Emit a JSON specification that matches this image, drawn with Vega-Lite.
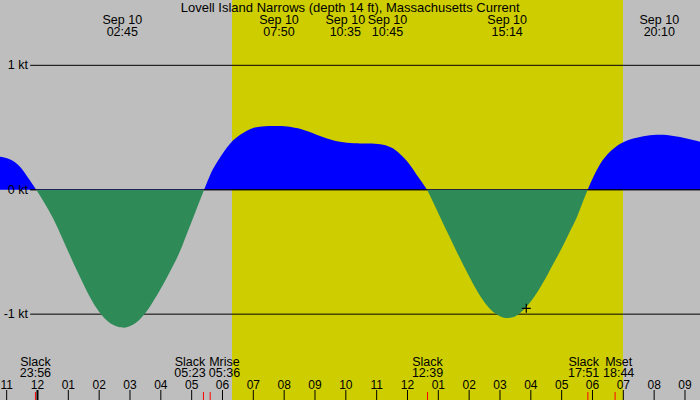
{
  "$schema": "https://vega.github.io/schema/vega-lite/v6.json",
  "width": 700,
  "height": 400,
  "autosize": {"type": "none"},
  "padding": 0,
  "background": "#bebebe",
  "config": {
    "view": {"stroke": null, "fill": "#bebebe"},
    "axis": {"disable": true},
    "text": {"font": "Liberation Sans", "fontSize": 12, "color": "black"}
  },
  "datasets": {
    "day": [{"rise": 30.308, "set": 42.989}],
    "levels": [
      {"kt": 1, "label": "1 kt"},
      {"kt": 0, "label": "0 kt"},
      {"kt": -1, "label": "-1 kt"}
    ],
    "flood": [
      {"start": 23.763, "end": 23.961},
      {"start": 29.4, "end": 36.642},
      {"start": 41.838, "end": 45.487}
    ],
    "current": [
      {"t": 22.395, "kt": 0.275},
      {"t": 22.784, "kt": 0.266},
      {"t": 23.043, "kt": 0.253},
      {"t": 23.27, "kt": 0.225},
      {"t": 23.433, "kt": 0.187},
      {"t": 23.595, "kt": 0.135},
      {"t": 23.757, "kt": 0.074},
      {"t": 23.961, "kt": 0},
      {"t": 24.243, "kt": -0.111},
      {"t": 24.512, "kt": -0.23},
      {"t": 24.73, "kt": -0.348},
      {"t": 24.999, "kt": -0.498},
      {"t": 25.249, "kt": -0.635},
      {"t": 25.486, "kt": -0.758},
      {"t": 25.703, "kt": -0.866},
      {"t": 25.897, "kt": -0.947},
      {"t": 26.092, "kt": -1.015},
      {"t": 26.287, "kt": -1.061},
      {"t": 26.481, "kt": -1.091},
      {"t": 26.692, "kt": -1.109},
      {"t": 26.783, "kt": -1.109},
      {"t": 26.874, "kt": -1.109},
      {"t": 27.097, "kt": -1.089},
      {"t": 27.292, "kt": -1.051},
      {"t": 27.487, "kt": -0.999},
      {"t": 27.681, "kt": -0.926},
      {"t": 27.876, "kt": -0.85},
      {"t": 28.07, "kt": -0.766},
      {"t": 28.265, "kt": -0.673},
      {"t": 28.46, "kt": -0.581},
      {"t": 28.622, "kt": -0.498},
      {"t": 28.816, "kt": -0.372},
      {"t": 29.043, "kt": -0.23},
      {"t": 29.222, "kt": -0.115},
      {"t": 29.4, "kt": 0},
      {"t": 29.572, "kt": 0.105},
      {"t": 29.708, "kt": 0.175},
      {"t": 29.864, "kt": 0.239},
      {"t": 30.049, "kt": 0.307},
      {"t": 30.243, "kt": 0.373},
      {"t": 30.406, "kt": 0.412},
      {"t": 30.568, "kt": 0.442},
      {"t": 30.762, "kt": 0.472},
      {"t": 30.947, "kt": 0.494},
      {"t": 31.151, "kt": 0.506},
      {"t": 31.378, "kt": 0.51},
      {"t": 31.606, "kt": 0.512},
      {"t": 31.81, "kt": 0.512},
      {"t": 32.011, "kt": 0.512},
      {"t": 32.222, "kt": 0.506},
      {"t": 32.449, "kt": 0.494},
      {"t": 32.676, "kt": 0.478},
      {"t": 32.945, "kt": 0.454},
      {"t": 33.162, "kt": 0.432},
      {"t": 33.389, "kt": 0.412},
      {"t": 33.616, "kt": 0.396},
      {"t": 33.811, "kt": 0.384},
      {"t": 34.038, "kt": 0.377},
      {"t": 34.265, "kt": 0.373},
      {"t": 34.46, "kt": 0.372},
      {"t": 34.654, "kt": 0.372},
      {"t": 34.849, "kt": 0.372},
      {"t": 35.043, "kt": 0.368},
      {"t": 35.206, "kt": 0.362},
      {"t": 35.368, "kt": 0.352},
      {"t": 35.54, "kt": 0.333},
      {"t": 35.692, "kt": 0.303},
      {"t": 35.822, "kt": 0.273},
      {"t": 35.974, "kt": 0.235},
      {"t": 36.114, "kt": 0.188},
      {"t": 36.299, "kt": 0.119},
      {"t": 36.471, "kt": 0.061},
      {"t": 36.642, "kt": 0},
      {"t": 36.86, "kt": -0.115},
      {"t": 37.077, "kt": -0.23},
      {"t": 37.33, "kt": -0.362},
      {"t": 37.596, "kt": -0.498},
      {"t": 37.865, "kt": -0.633},
      {"t": 38.134, "kt": -0.762},
      {"t": 38.352, "kt": -0.854},
      {"t": 38.546, "kt": -0.922},
      {"t": 38.708, "kt": -0.967},
      {"t": 38.838, "kt": -0.995},
      {"t": 38.968, "kt": -1.015},
      {"t": 39.098, "kt": -1.028},
      {"t": 39.237, "kt": -1.033},
      {"t": 39.373, "kt": -1.029},
      {"t": 39.519, "kt": -1.015},
      {"t": 39.649, "kt": -0.995},
      {"t": 39.811, "kt": -0.955},
      {"t": 39.973, "kt": -0.906},
      {"t": 40.168, "kt": -0.842},
      {"t": 40.353, "kt": -0.766},
      {"t": 40.557, "kt": -0.677},
      {"t": 40.752, "kt": -0.585},
      {"t": 40.946, "kt": -0.498},
      {"t": 41.14, "kt": -0.404},
      {"t": 41.303, "kt": -0.316},
      {"t": 41.488, "kt": -0.23},
      {"t": 41.66, "kt": -0.115},
      {"t": 41.838, "kt": 0},
      {"t": 42.026, "kt": 0.105},
      {"t": 42.244, "kt": 0.21},
      {"t": 42.406, "kt": 0.263},
      {"t": 42.568, "kt": 0.306},
      {"t": 42.73, "kt": 0.341},
      {"t": 42.892, "kt": 0.37},
      {"t": 43.103, "kt": 0.396},
      {"t": 43.324, "kt": 0.413},
      {"t": 43.541, "kt": 0.425},
      {"t": 43.758, "kt": 0.434},
      {"t": 43.963, "kt": 0.44},
      {"t": 44.19, "kt": 0.442},
      {"t": 44.417, "kt": 0.44},
      {"t": 44.621, "kt": 0.432},
      {"t": 44.838, "kt": 0.424},
      {"t": 45.055, "kt": 0.413},
      {"t": 45.26, "kt": 0.4},
      {"t": 45.487, "kt": 0.386},
      {"t": 45.811, "kt": 0.36}
    ],
    "hours": [
      {"t": 23, "label": "11"}, {"t": 24, "label": "12"}, {"t": 25, "label": "01"},
      {"t": 26, "label": "02"}, {"t": 27, "label": "03"}, {"t": 28, "label": "04"},
      {"t": 29, "label": "05"}, {"t": 30, "label": "06"}, {"t": 31, "label": "07"},
      {"t": 32, "label": "08"}, {"t": 33, "label": "09"}, {"t": 34, "label": "10"},
      {"t": 35, "label": "11"}, {"t": 36, "label": "12"}, {"t": 37, "label": "01"},
      {"t": 38, "label": "02"}, {"t": 39, "label": "03"}, {"t": 40, "label": "04"},
      {"t": 41, "label": "05"}, {"t": 42, "label": "06"}, {"t": 43, "label": "07"},
      {"t": 44, "label": "08"}, {"t": 45, "label": "09"}
    ],
    "events": [
      {"t": 23.933, "label": "Slack\n23:56"},
      {"t": 29.383, "label": "Slack\n05:23"},
      {"t": 29.6, "label": "Mrise\n05:36"},
      {"t": 36.65, "label": "Slack\n12:39"},
      {"t": 41.85, "label": "Slack\n17:51"},
      {"t": 42.733, "label": "Mset\n18:44"}
    ],
    "extrema": [
      {"t": 26.75, "label": "Sep 10\n02:45"},
      {"t": 31.833, "label": "Sep 10\n07:50"},
      {"t": 34.583, "label": "Sep 10\n10:35"},
      {"t": 34.75, "label": "Sep 10\n10:45"},
      {"t": 39.233, "label": "Sep 10\n15:14"},
      {"t": 44.167, "label": "Sep 10\n20:10"}
    ],
    "now": [{"t": 39.853, "kt": -0.953}]
  },
  "layer": [
    {
      "data": {"name": "day"},
      "mark": {"type": "rect", "color": "#cdcd00"},
      "encoding": {
        "x": {"field": "rise", "type": "quantitative", "scale": {"domain": [22.784, 45.487], "nice": false, "zero": false}},
        "x2": {"field": "set"}
      }
    },
    {
      "data": {"name": "levels"},
      "mark": {"type": "rule", "color": "black", "strokeWidth": 1},
      "encoding": {
        "y": {"field": "kt", "type": "quantitative", "scale": {"domain": [-1.69, 1.525], "nice": false, "zero": false}},
        "x": {"datum": 23.763, "type": "quantitative"},
        "x2": {"datum": 45.487}
      }
    },
    {
      "data": {"name": "current"},
      "mark": {
        "type": "area",
        "interpolate": "basis",
        "clip": true,
        "color": {
          "gradient": "linear",
          "x1": 0, "y1": 0, "x2": 0, "y2": 1,
          "stops": [
            {"offset": 0, "color": "#0000ff"},
            {"offset": 0.3159, "color": "#0000ff"},
            {"offset": 0.3159, "color": "#2e8b57"},
            {"offset": 1, "color": "#2e8b57"}
          ]
        }
      },
      "encoding": {
        "x": {"field": "t", "type": "quantitative"},
        "y": {"field": "kt", "type": "quantitative"},
        "y2": {"datum": 0}
      }
    },
    {
      "data": {"name": "flood"},
      "mark": {"type": "rule", "color": "black", "strokeWidth": 1},
      "encoding": {
        "x": {"field": "start", "type": "quantitative"},
        "x2": {"field": "end"},
        "y": {"datum": 0, "type": "quantitative"}
      }
    },
    {
      "data": {"name": "hours"},
      "mark": {"type": "rule", "color": "black", "strokeWidth": 1},
      "encoding": {
        "x": {"field": "t", "type": "quantitative"},
        "y": {"datum": -1.6095, "type": "quantitative"},
        "y2": {"datum": -1.69}
      }
    },
    {
      "data": {"name": "events"},
      "mark": {"type": "rule", "color": "red", "strokeWidth": 1},
      "encoding": {
        "x": {"field": "t", "type": "quantitative"},
        "y": {"datum": -1.6256, "type": "quantitative"},
        "y2": {"datum": -1.69}
      }
    },
    {
      "data": {"name": "hours"},
      "transform": [{"filter": {"field": "t", "equal": 24}}],
      "mark": {"type": "rule", "color": "black", "strokeWidth": 2},
      "encoding": {
        "x": {"field": "t", "type": "quantitative"},
        "y": {"datum": -1.6095, "type": "quantitative"},
        "y2": {"datum": -1.69}
      }
    },
    {
      "data": {"name": "hours"},
      "mark": {"type": "text", "align": "center", "baseline": "alphabetic"},
      "encoding": {
        "x": {"field": "t", "type": "quantitative"},
        "y": {"datum": -1.6016, "type": "quantitative"},
        "text": {"field": "label"}
      }
    },
    {
      "data": {"name": "extrema"},
      "transform": [{"filter": {"field": "t", "oneOf": [26.75, 31.833, 39.233, 44.167]}}],
      "mark": {"type": "text", "align": "center", "baseline": "alphabetic", "lineBreak": "\n", "lineHeight": 11.7, "fontSize": 12.5},
      "encoding": {
        "x": {"field": "t", "type": "quantitative"},
        "y": {"datum": 1.3297, "type": "quantitative"},
        "text": {"field": "label"}
      }
    },
    {
      "data": {"name": "extrema"},
      "transform": [{"filter": {"field": "t", "equal": 34.583}}],
      "mark": {"type": "text", "align": "center", "baseline": "alphabetic", "lineBreak": "\n", "lineHeight": 11.7, "fontSize": 12.5, "dx": -18.5},
      "encoding": {
        "x": {"field": "t", "type": "quantitative"},
        "y": {"datum": 1.3297, "type": "quantitative"},
        "text": {"field": "label"}
      }
    },
    {
      "data": {"name": "extrema"},
      "transform": [{"filter": {"field": "t", "equal": 34.75}}],
      "mark": {"type": "text", "align": "center", "baseline": "alphabetic", "lineBreak": "\n", "lineHeight": 11.7, "fontSize": 12.5, "dx": 18.5},
      "encoding": {
        "x": {"field": "t", "type": "quantitative"},
        "y": {"datum": 1.3297, "type": "quantitative"},
        "text": {"field": "label"}
      }
    },
    {
      "data": {"name": "events"},
      "transform": [{"filter": {"field": "t", "oneOf": [23.933, 36.65]}}],
      "mark": {"type": "text", "align": "center", "baseline": "alphabetic", "lineBreak": "\n", "lineHeight": 11.5, "fontSize": 12.5},
      "encoding": {
        "x": {"field": "t", "type": "quantitative"},
        "y": {"datum": -1.4167, "type": "quantitative"},
        "text": {"field": "label"}
      }
    },
    {
      "data": {"name": "events"},
      "transform": [{"filter": {"field": "t", "equal": 29.383}}],
      "mark": {"type": "text", "align": "center", "baseline": "alphabetic", "lineBreak": "\n", "lineHeight": 11.5, "fontSize": 12.5, "dx": -13.5},
      "encoding": {
        "x": {"field": "t", "type": "quantitative"},
        "y": {"datum": -1.4167, "type": "quantitative"},
        "text": {"field": "label"}
      }
    },
    {
      "data": {"name": "events"},
      "transform": [{"filter": {"field": "t", "equal": 29.6}}],
      "mark": {"type": "text", "align": "center", "baseline": "alphabetic", "lineBreak": "\n", "lineHeight": 11.5, "fontSize": 12.5, "dx": 14.3},
      "encoding": {
        "x": {"field": "t", "type": "quantitative"},
        "y": {"datum": -1.4167, "type": "quantitative"},
        "text": {"field": "label"}
      }
    },
    {
      "data": {"name": "events"},
      "transform": [{"filter": {"field": "t", "equal": 41.85}}],
      "mark": {"type": "text", "align": "center", "baseline": "alphabetic", "lineBreak": "\n", "lineHeight": 11.5, "fontSize": 12.5, "dx": -4.2},
      "encoding": {
        "x": {"field": "t", "type": "quantitative"},
        "y": {"datum": -1.4167, "type": "quantitative"},
        "text": {"field": "label"}
      }
    },
    {
      "data": {"name": "events"},
      "transform": [{"filter": {"field": "t", "equal": 42.733}}],
      "mark": {"type": "text", "align": "center", "baseline": "alphabetic", "lineBreak": "\n", "lineHeight": 11.5, "fontSize": 12.5, "dx": 3.6},
      "encoding": {
        "x": {"field": "t", "type": "quantitative"},
        "y": {"datum": -1.4167, "type": "quantitative"},
        "text": {"field": "label"}
      }
    },
    {
      "data": {"name": "levels"},
      "mark": {"type": "text", "align": "right", "baseline": "middle", "fontSize": 12.5},
      "encoding": {
        "x": {"datum": 23.692, "type": "quantitative"},
        "y": {"field": "kt", "type": "quantitative"},
        "text": {"field": "label"}
      }
    },
    {
      "data": {"values": [{"title": "Lovell Island Narrows (depth 14 ft), Massachusetts Current"}]},
      "mark": {"type": "text", "align": "center", "baseline": "alphabetic", "fontSize": 13},
      "encoding": {
        "x": {"datum": 34.142, "type": "quantitative"},
        "y": {"datum": 1.4286, "type": "quantitative"},
        "text": {"field": "title"}
      }
    },
    {
      "data": {"name": "now"},
      "mark": {"type": "point", "shape": "M-1,0H1M0,-1V1", "filled": false, "color": "black", "strokeWidth": 1.2, "size": 81, "opacity": 1},
      "encoding": {
        "x": {"field": "t", "type": "quantitative"},
        "y": {"field": "kt", "type": "quantitative"}
      }
    }
  ]
}
